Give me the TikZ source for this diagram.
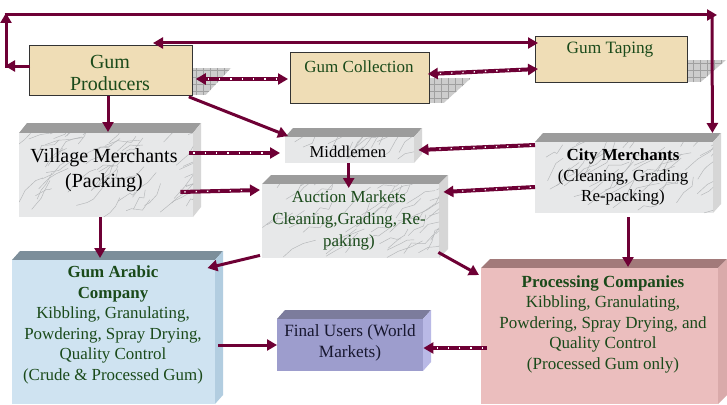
\documentclass[tikz,border=0pt]{standalone}
\usepackage{fontspec}
\setmainfont{Liberation Serif}
\usetikzlibrary{arrows.meta,calc}
\definecolor{arrc}{HTML}{6E0035}
\definecolor{txtg}{HTML}{1A4A1A}
\definecolor{beige}{HTML}{EFDDB6}
\definecolor{shad}{HTML}{CDCDCD}
\definecolor{shadl}{HTML}{A0A0A0}
\definecolor{mtop}{HTML}{9C9C9C}
\definecolor{mfront}{HTML}{E7E8E9}
\definecolor{mside}{HTML}{D6D6D6}
\definecolor{btop}{HTML}{7C8E9A}
\definecolor{bfront}{HTML}{CFE3F1}
\definecolor{bside}{HTML}{B2CDE0}
\definecolor{vtop}{HTML}{7C7C9C}
\definecolor{vfront}{HTML}{9D9DCD}
\definecolor{vside}{HTML}{B9B9E6}
\definecolor{ptop}{HTML}{A27A7A}
\definecolor{pfront}{HTML}{EBBEBE}
\definecolor{pside}{HTML}{D9AAAA}
\definecolor{ftxt}{HTML}{181830}
\definecolor{vein}{HTML}{B4B6B8}
\newcommand\mybox[8]{% name, x, y, w, h, dx, dy, colour prefix
  \fill[#8top] (#2,#3) -- ++(#6,-#7) -- ++(#4,0) -- ++(-#6,#7) -- cycle;
  \fill[#8side] (#2+#4,#3) -- ++(#6,-#7) -- ++(0,#5) -- ++(-#6,#7) -- cycle;
  \node[fill=#8front, inner sep=0, minimum width=#4pt, minimum height=#5pt, anchor=north west] (#1) at (#2,#3) {};
}
\newcommand\marble[5]{% x, y, w, h, count
  \begin{scope}
    \clip (#1,#2) rectangle (#1+#3,#2+#4);
    \foreach \k in {1,...,#5}{
      \draw[vein, line width=0.45pt, line join=round]
        (#1+rnd*#3,#2+rnd*#4) -- ++(9+rand*5,-7+rand*5) -- ++(8+rand*6,-5+rand*7) -- ++(7+rand*6,-6+rand*6);
    }
  \end{scope}
}
\newcommand\myshadow[4]{% x, ytop, ybottom, width
  \begin{scope}
    \clip (#1,#2) -- ++(#4,0) -- (#1+#4*0.35,#3) -- (#1,#3) -- cycle;
    \fill[shad] (#1,#2) rectangle (#1+#4,#3);
    \draw[shadl, line width=0.5pt, step=7pt] (#1,#2) grid (#1+#4,#3);
  \end{scope}
}
\tikzset{
  arr/.style={draw=arrc, line width=3pt, -{Triangle[length=10pt,width=11pt]}},
  darr/.style={draw=arrc, line width=3pt, {Triangle[length=10pt,width=11pt]}-{Triangle[length=10pt,width=11pt]}},
  thk/.style={line width=4pt},
  dots/.style={draw=white, line width=1.3pt, dash pattern=on 1.3pt off 10pt},
  beigebox/.style={fill=beige, draw=black!80, line width=0.8pt, inner sep=0, anchor=north west},
  lbl/.style={align=center, inner sep=0},
  f17/.style={font=\fontsize{16.9}{20.6}\selectfont},
}
\begin{document}
\begin{tikzpicture}[x=1pt,y=-1pt]
\pgfmathsetseed{7}
\useasboundingbox (0,0) rectangle (727,404);
\fill[white] (0,0) rectangle (727,404);

% shadows of the flat boxes
\myshadow{192}{68}{95}{39}
\myshadow{429}{78}{103}{42}
\myshadow{687}{60}{82}{39}

% flat boxes
\node[beigebox, minimum width=163pt, minimum height=50pt] (prod) at (29,45) {};
\node[beigebox, minimum width=139pt, minimum height=51pt] (coll) at (290,52) {};
\node[beigebox, minimum width=152pt, minimum height=46pt] (tap) at (535,36) {};

% 3D boxes
\mybox{vm}{19}{133}{174}{84}{8}{10}{m}
\marble{19}{133}{174}{84}{55}
\mybox{mid}{285}{137}{129}{26}{8}{9}{m}
\marble{285}{137}{129}{26}{16}
\mybox{city}{535}{142}{178}{71}{8}{9}{m}
\marble{535}{142}{178}{71}{48}
\mybox{auc}{262}{184}{177}{74}{9}{9}{m}
\marble{262}{184}{177}{74}{50}
\mybox{ga}{12}{260}{203}{144}{8}{9}{b}
\mybox{fin}{277}{319}{146}{52}{8}{9}{v}
\mybox{proc}{481}{268}{237}{136}{9}{9}{p}

% labels
\node[lbl, text=txtg, font=\fontsize{20}{22}\selectfont] (prodt) at (110,73) {Gum\\Producers};
\node[lbl, text=txtg, font=\fontsize{17}{20}\selectfont] (collt) at (359,67) {Gum Collection};
\node[lbl, text=txtg, font=\fontsize{17.3}{20}\selectfont] (tapt) at (610,50) {Gum Taping};
\node[lbl, font=\fontsize{20}{25}\selectfont] (vmt) at (104,170) {Village Merchants\\(Packing)};
\node[lbl, font=\fontsize{16.6}{20}\selectfont] (midt) at (348,152) {Middlemen};
\node[lbl, f17] (cityt) at (623,177) {\textbf{City Merchants}\\(Cleaning, Grading\\Re-packing)};
\node[lbl, text=txtg, font=\fontsize{16.9}{22}\selectfont] (auct) at (349,220) {Auction Markets\\Cleaning,Grading, Re-\\paking)};
\node[lbl, f17, text=txtg] (gat) at (113,325) {\textbf{Gum Arabic}\\\textbf{Company}\\Kibbling, Granulating,\\Powdering, Spray Drying,\\Quality Control\\(Crude \& Processed Gum)};
\node[lbl, text=ftxt, font=\fontsize{17.2}{21}\selectfont] (fint) at (350,343) {Final Users (World\\Markets)};
\node[lbl, text=txtg, font=\fontsize{17}{20.5}\selectfont] (proct) at (603,324) {\textbf{Processing Companies}\\Kibbling, Granulating,\\Powdering, Spray Drying, and\\Quality Control\\(Processed Gum only)};

% outer loop
\coordinate (L1) at (5,66);
\coordinate (L0) at (6,67.5);
\coordinate (L2) at (6,13);
\coordinate (T1) at (4.5,15);
\coordinate (T2) at (717,15);
\coordinate (T3) at (712,16.5);
\draw[arr] ($(prod.north west)+(1,21)$) -- (L1);
\draw[arr] (L0) -- (L2);
\draw[arr] (T1) -- (T2);
\draw[arr] (T3) -- ($(city.north east)+(-1,-9)$);

% solid arrows
\draw[darr] ($(prod.north west)+(124,-2)$) -- ($(tap.north west)+(3,7)$);
\draw[arr] ($(prod.south west)+(79,0)$) -- ($(vm.north west)+(89,-1)$);
\draw[arr] ($(prod.south east)+(-4,1)$) -- ($(mid.north west)+(3,-1)$);
\draw[arr] ($(mid.south)+(-1,0)$) -- ($(auc.north)+(-2,4)$);
\draw[arr] ($(city.south west)+(93,4)$) -- ($(proc.north west)+(147,-1)$);
\draw[arr] ($(vm.south west)+(81,0)$) -- ($(ga.north west)+(88,-2)$);
\draw[arr] ($(auc.south west)+(-2,-3)$) -- ($(ga.north east)+(-8,8)$);
\draw[arr] ($(auc.south east)+(-1,-6)$) -- ($(proc.north west)+(-2,7)$);
\draw[arr] ($(ga.north east)+(3,85)$) -- ($(fin.north west)+(0,26)$);

% dotted arrows
\draw[darr, thk] ($(prod.north east)+(3,34)$) -- ($(coll.north west)+(-2,27)$);
\draw[dots, shorten <=12pt, shorten >=12pt] ($(prod.north east)+(3,34)$) -- ($(coll.north west)+(-2,27)$);
\draw[darr, thk] ($(coll.north east)+(-2,22)$) -- ($(tap.north west)+(3,33)$);
\draw[dots, shorten <=12pt, shorten >=12pt] ($(coll.north east)+(-2,22)$) -- ($(tap.north west)+(3,33)$);
\draw[arr, thk] ($(vm.north east)+(-4,20)$) -- ($(mid.north west)+(-5,16)$);
\draw[dots, shorten <=4pt, shorten >=12pt] ($(vm.north east)+(-4,20)$) -- ($(mid.north west)+(-5,16)$);
\draw[arr, thk] ($(vm.north east)+(-13,59)$) -- ($(auc.north west)+(-2,6)$);
\draw[dots, shorten <=4pt, shorten >=12pt] ($(vm.north east)+(-13,59)$) -- ($(auc.north west)+(-2,6)$);
\draw[arr, thk] ($(city.north west)+(0,3)$) -- ($(mid.north east)+(4,13)$);
\draw[dots, shorten <=4pt, shorten >=12pt] ($(city.north west)+(0,3)$) -- ($(mid.north east)+(4,13)$);
\draw[arr, thk] ($(city.north west)+(0,45)$) -- ($(auc.north east)+(4,8)$);
\draw[dots, shorten <=4pt, shorten >=12pt] ($(city.north west)+(0,45)$) -- ($(auc.north east)+(4,8)$);
\draw[arr, thk] ($(proc.north west)+(6,80)$) -- ($(fin.north east)+(0,29)$);
\draw[dots, shorten <=4pt, shorten >=12pt] ($(proc.north west)+(6,80)$) -- ($(fin.north east)+(0,29)$);
\end{tikzpicture}
\end{document}
